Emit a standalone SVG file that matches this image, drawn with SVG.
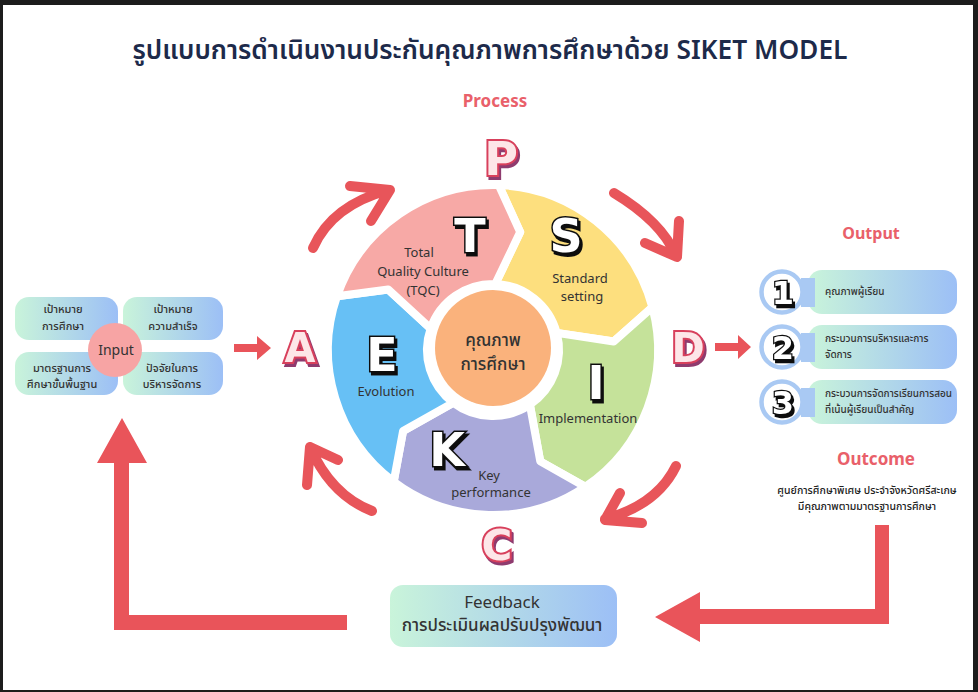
<svg xmlns="http://www.w3.org/2000/svg" width="978" height="692" viewBox="0 0 978 692">
<defs>
<linearGradient id="g" x1="0" y1="0" x2="1" y2="0"><stop offset="0" stop-color="#c9f4da"/><stop offset="1" stop-color="#9cbff6"/></linearGradient>
<filter id="sh" x="-30%" y="-30%" width="160%" height="160%"><feOffset in="SourceAlpha" dx="2" dy="3" result="o"/><feFlood flood-color="#111"/><feComposite in2="o" operator="in" result="s"/><feMerge><feMergeNode in="s"/><feMergeNode in="SourceGraphic"/></feMerge></filter>
<filter id="shr" x="-30%" y="-30%" width="160%" height="160%"><feOffset in="SourceAlpha" dx="2" dy="3" result="o"/><feFlood flood-color="#8e3a6e"/><feComposite in2="o" operator="in" result="s"/><feMerge><feMergeNode in="s"/><feMergeNode in="SourceGraphic"/></feMerge></filter>
</defs>
<style>
.seg{stroke:#fff;stroke-width:8;stroke-linejoin:round}
.lbl{font-family:"Noto Sans","Noto Sans Thai",sans-serif;font-size:13px;fill:#333;text-anchor:middle}
.th{font-family:"Noto Sans Thai","Noto Sans",sans-serif;font-weight:500;fill:#333;text-anchor:middle}
.ot{font-family:"Noto Sans Thai","Noto Sans",sans-serif;font-weight:500;font-size:10px;fill:#333;text-anchor:start}
.big{font-family:"DejaVu Sans",sans-serif;font-weight:bold;fill:#fff;stroke:#111;stroke-width:3;paint-order:stroke;text-anchor:middle;filter:url(#sh)}
.red{font-family:"DejaVu Sans",sans-serif;font-weight:bold;fill:#fde6e8;stroke:#d8405c;stroke-width:4;paint-order:stroke;text-anchor:middle;filter:url(#shr)}
.arc{fill:none;stroke:#e8555a;stroke-width:10;stroke-linecap:round;stroke-linejoin:round}
.fa{fill:#e9545a}
.hd{font-family:"Noto Sans","Noto Sans Thai",sans-serif;font-weight:bold;fill:#e9606a;text-anchor:middle}
.box{fill:url(#g)}
.ring{fill:#fff;stroke:#a9c9f3;stroke-width:4.5}
.tab{fill:#a9c9f3}
</style>
<rect x="0" y="0" width="978" height="692" fill="#1c1c1c"/>
<rect x="3" y="5" width="970" height="685" fill="#fff"/>

<text x="490" y="59" font-family="Noto Sans Thai, Noto Sans, sans-serif" font-size="27" font-weight="600" fill="#1d2a4a" text-anchor="middle" textLength="715" lengthAdjust="spacingAndGlyphs">รูปแบบการดำเนินงานประกันคุณภาพการศึกษาด้วย SIKET MODEL</text>

<g id="process-title"><text class="hd" x="495" y="107" font-size="17">Process</text></g>

<g id="wheel">
<g id="seg-S"><path class="seg" fill="#fddf7e" d="M498.76,185.10 A165,165 0 0 1 652.38,307.30 L613.71,341.56 L556.75,332.92 A66,66 0 0 0 495.30,284.04 L520.22,232.10 Z"/>
<text class="big" x="566" y="252" font-size="46">S</text>
<text class="lbl" x="580" y="283">Standard</text><text class="lbl" x="582" y="301">setting</text></g>
<g id="seg-I"><path class="seg" fill="#c5e29a" d="M652.38,307.30 A165,165 0 0 1 585.27,486.79 L540.28,461.38 L529.91,404.72 A66,66 0 0 0 556.75,332.92 L613.71,341.56 Z"/>
<text class="big" x="596" y="399" font-size="46">I</text>
<text class="lbl" x="588" y="423">Implementation</text></g>
<g id="seg-K"><path class="seg" fill="#a9a9da" d="M585.27,486.79 A165,165 0 0 1 393.70,481.78 L403.08,430.97 L453.28,402.71 A66,66 0 0 0 529.91,404.72 L540.28,461.38 Z"/>
<text class="big" x="447" y="466" font-size="46">K</text>
<text class="lbl" x="489" y="480">Key</text><text class="lbl" x="491" y="497">performance</text></g>
<g id="seg-E"><path class="seg" fill="#67c0f5" d="M393.70,481.78 A165,165 0 0 1 336.99,296.28 L388.21,289.50 L430.60,328.51 A66,66 0 0 0 453.28,402.71 L403.08,430.97 Z"/>
<text class="big" x="382" y="371" font-size="46">E</text>
<text class="lbl" x="386" y="396">Evolution</text></g>
<g id="seg-T"><path class="seg" fill="#f7a9a6" d="M336.99,296.28 A165,165 0 0 1 498.76,185.10 L520.22,232.10 L495.30,284.04 A66,66 0 0 0 430.60,328.51 L388.21,289.50 Z"/>
<text class="big" x="470" y="252" font-size="46">T</text>
<text class="lbl" x="419" y="257">Total</text><text class="lbl" x="423" y="276">Quality Culture</text><text class="lbl" x="423" y="295">(TQC)</text></g>
<g id="core"><circle cx="493" cy="348" r="58" fill="#fab27c"/>
<text class="th" x="493" y="346" font-size="17">คุณภาพ</text><text class="th" x="493" y="370" font-size="17">การศึกษา</text></g>
</g>

<g id="letters">
<text class="red" x="501" y="175" font-size="46">P</text>
<text class="red" x="300" y="362" font-size="40">A</text>
<text class="red" x="688" y="362" font-size="40">D</text>
<text class="red" x="497" y="560" font-size="42">C</text>
</g>

<g id="input">
<rect class="box" x="15" y="297" width="103" height="43" rx="14"/>
<rect class="box" x="123" y="297" width="100" height="43" rx="14"/>
<rect class="box" x="15" y="352" width="103" height="43" rx="14"/>
<rect class="box" x="123" y="352" width="100" height="43" rx="14"/>
<text class="th" x="63" y="313" font-size="11">เป้าหมาย</text><text class="th" x="63" y="330" font-size="11">การศึกษา</text>
<text class="th" x="173" y="313" font-size="11">เป้าหมาย</text><text class="th" x="173" y="330" font-size="11">ความสำเร็จ</text>
<text class="th" x="62" y="372" font-size="11">มาตรฐานการ</text><text class="th" x="62" y="388" font-size="11">ศึกษาขั้นพื้นฐาน</text>
<text class="th" x="172" y="372" font-size="11">ปัจจัยในการ</text><text class="th" x="172" y="388" font-size="11">บริหารจัดการ</text>
<circle cx="115" cy="350" r="27" fill="#f7a4a4"/>
<text class="lbl" x="116" y="355" style="font-size:14px">Input</text>
</g>

<g id="output">
<text class="hd" x="871" y="239" font-size="16">Output</text>
<g id="out1"><rect class="box" x="808" y="270" width="149" height="44" rx="14"/><circle class="ring" cx="782" cy="292" r="20.5"/><rect class="tab" x="801" y="278" width="14" height="29"/>
<text class="big" x="783" y="304" font-size="32" style="stroke-width:2.5">1</text><text class="ot" x="825" y="295">คุณภาพผู้เรียน</text></g>
<g id="out2"><rect class="box" x="808" y="325" width="149" height="44" rx="14"/><circle class="ring" cx="782" cy="347" r="20.5"/><rect class="tab" x="801" y="333" width="14" height="29"/>
<text class="big" x="783" y="359" font-size="32" style="stroke-width:2.5">2</text><text class="ot" x="825" y="342">กระบวนการบริหารและการ</text><text class="ot" x="825" y="358">จัดการ</text></g>
<g id="out3"><rect class="box" x="808" y="380" width="149" height="44" rx="14"/><circle class="ring" cx="782" cy="402" r="20.5"/><rect class="tab" x="801" y="388" width="14" height="29"/>
<text class="big" x="783" y="414" font-size="32" style="stroke-width:2.5">3</text><text class="ot" x="825" y="397">กระบวนการจัดการเรียนการสอน</text><text class="ot" x="825" y="413">ที่เน้นผู้เรียนเป็นสำคัญ</text></g>
</g>

<g id="outcome">
<text class="hd" x="876" y="465" font-size="17">Outcome</text>
<text class="th" x="867" y="494" font-size="10.5" style="fill:#222">ศูนย์การศึกษาพิเศษ ประจำจังหวัดศรีสะเกษ</text>
<text class="th" x="867" y="510" font-size="10.5" style="fill:#222">มีคุณภาพตามมาตรฐานการศึกษา</text>
</g>

<g id="feedback">
<rect class="box" x="390" y="585" width="227" height="62" rx="13"/>
<text class="lbl" x="502" y="608" style="font-size:17px">Feedback</text>
<text class="th" x="502" y="631" font-size="17">การประเมินผลปรับปรุงพัฒนา</text>
</g>

<g id="connectors">
<path class="arc" d="M313,248 Q332,205 389,190 M350,186 L390,190 L371,221"/>
<path class="arc" d="M614,193 Q662,222 676,256 M645,243 L677,257 L679,221"/>
<path class="arc" d="M676,466 Q657,505 605,519 M620,493 L605,520 L642,523"/>
<path class="arc" d="M372,511 Q331,495 310,447 M338,460 L310,447 L307,485"/>
<path class="fa" d="M234,344 H257 V336 L271,348 L257,360 V352 H234 Z"/>
<path class="fa" d="M715,343 H738 V335 L751,347 L738,359 V351 H715 Z"/>
<path class="fa" d="M347,615 V630 H114 V463 H97 L122,418 L147,463 H129 V615 Z"/>
<path class="fa" d="M875,525 H889 V624 H700 V642 L655,617 L700,592 V609 H875 Z"/>
</g>
</svg>
